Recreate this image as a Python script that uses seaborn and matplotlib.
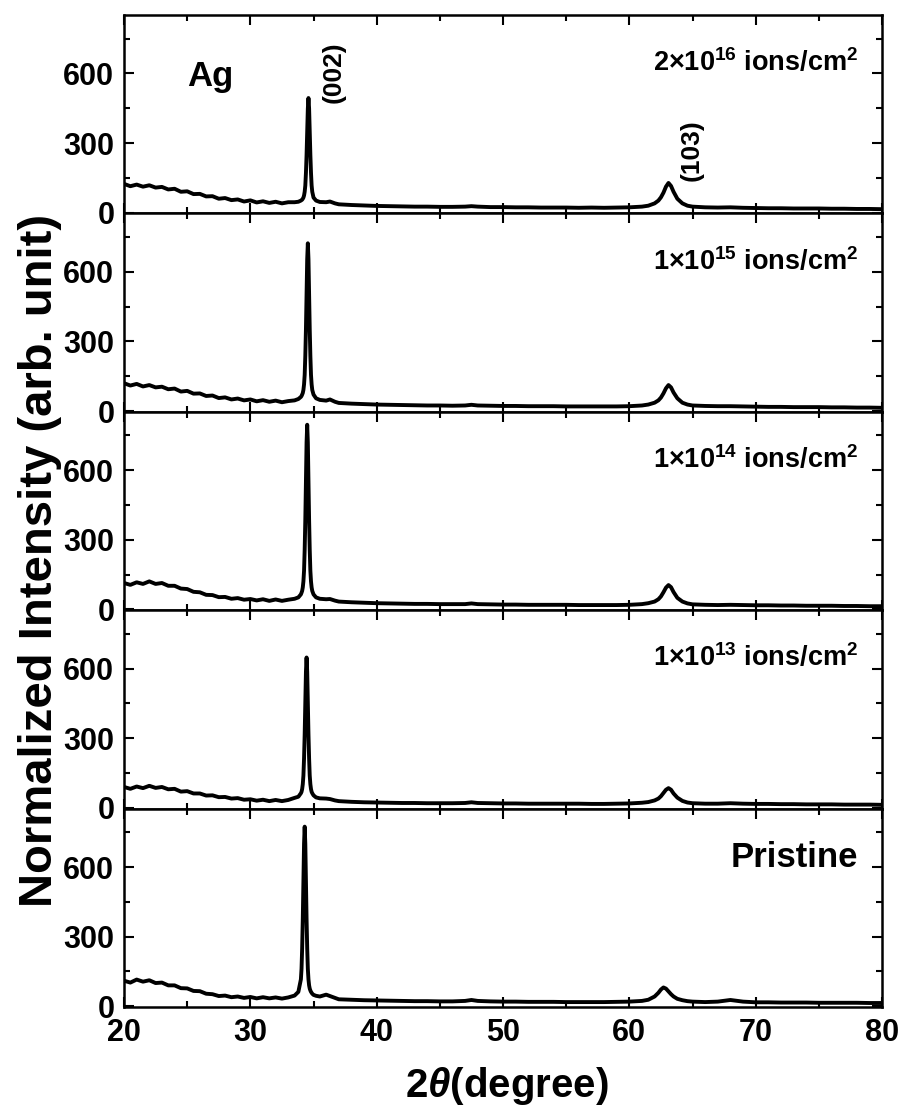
import numpy as np
import pandas as pd
import matplotlib
matplotlib.use("Agg")
import matplotlib.pyplot as plt
import seaborn as sns

# ---------------- data ----------------
two_theta = [20, 20.5, 21, 21.5, 22, 22.5, 23, 23.5, 24, 24.5, 25, 25.5, 26, 26.5, 27, 27.5,
             28, 28.5, 29, 29.5, 30, 30.5, 31, 31.5, 32, 32.5, 33,
             33.5, 33.8, 34.0, 34.05, 34.1, 34.15, 34.2, 34.25, 34.3, 34.35, 34.4, 34.45,
             34.5, 34.55, 34.6, 34.65, 34.7, 34.75, 34.8, 34.85, 34.9, 35.0, 35.2, 35.5,
             36.0, 36.3, 36.7, 37, 38, 39, 40, 41, 42, 43, 44, 45, 46, 47, 47.5, 48, 49, 50,
             51, 52, 53, 54, 55, 56, 57, 58, 59, 60, 61, 61.5,
             62.0, 62.3, 62.5, 62.7, 62.9, 63.1, 63.3, 63.5, 63.8, 64.2, 64.6, 65.0,
             66, 67, 68, 69, 70, 71, 72, 73, 74, 75, 76, 77, 78, 79, 80]

dose_2e16 = [124, 114, 121, 112, 118, 108, 111, 100, 103, 90, 92, 80, 81, 70, 71, 60,
             63, 54, 57, 48, 53, 44, 49, 42, 47, 40, 45,
             45, 47, 52, 54, 56, 60, 65, 74, 90, 117, 172, 249, 349, 449, 494, 449, 349, 249, 172, 117, 90, 65, 52, 46,
             45, 48, 40, 36, 33, 31, 29, 28, 27, 26, 26, 25, 25, 26, 28, 26, 24, 24, 23, 23, 22, 22, 22, 21, 22, 21, 22, 23, 26, 30,
             40, 52, 66, 86, 112, 128, 115, 90, 60, 40, 30, 26,
             23, 22, 23, 21, 20, 19, 19, 18, 18, 18, 17, 17, 16, 16, 15]

dose_1e15 = [120, 110, 117, 106, 112, 102, 105, 94, 97, 84, 87, 75, 76, 65, 67, 56,
             59, 50, 54, 46, 50, 42, 47, 40, 45, 38, 43,
             46, 52, 61, 65, 71, 78, 91, 115, 156, 238, 354, 504, 655, 723, 655, 504, 354, 238, 156, 115, 91, 71, 55, 48,
             45, 50, 40, 35, 32, 30, 28, 27, 26, 25, 24, 24, 23, 24, 27, 24, 23, 22, 22, 21, 21, 21, 20, 20, 20, 20, 20, 21, 24, 28,
             36, 46, 58, 76, 98, 112, 102, 80, 55, 36, 28, 24,
             22, 21, 21, 20, 19, 18, 18, 17, 17, 17, 16, 16, 15, 15, 14]

dose_1e14 = [114, 106, 117, 110, 121, 110, 114, 102, 102, 90, 88, 76, 74, 63, 62, 53,
             54, 46, 49, 42, 45, 39, 44, 37, 43, 37, 42,
             46, 52, 65, 72, 80, 95, 121, 167, 258, 387, 553, 720, 796, 720, 553, 387, 258, 167, 121, 95, 80, 65, 52, 46,
             44, 45, 38, 34, 31, 29, 27, 26, 25, 24, 24, 23, 23, 23, 26, 23, 22, 21, 21, 20, 20, 20, 20, 19, 19, 19, 19, 20, 23, 27,
             34, 44, 56, 74, 94, 105, 96, 75, 50, 34, 26, 22,
             20, 19, 20, 19, 18, 18, 17, 17, 16, 16, 16, 15, 15, 14, 14]

dose_1e13 = [90, 82, 92, 85, 95, 86, 90, 80, 82, 70, 72, 62, 62, 53, 54, 46,
             47, 40, 42, 35, 37, 31, 35, 29, 34, 29, 34,
             43, 48, 63, 69, 81, 102, 139, 213, 317, 452, 587, 648, 587, 452, 317, 213, 139, 102, 81, 69, 63, 54, 45, 41,
             40, 38, 32, 29, 26, 24, 23, 22, 21, 21, 20, 20, 20, 21, 24, 21, 20, 19, 19, 18, 18, 18, 18, 18, 17, 17, 18, 19, 22, 25,
             32, 40, 50, 64, 78, 85, 78, 62, 44, 30, 23, 20,
             18, 18, 20, 18, 17, 17, 16, 16, 15, 15, 15, 14, 14, 14, 13]

pristine = [110, 102, 115, 106, 112, 100, 102, 90, 90, 78, 77, 66, 65, 54, 52, 44,
            46, 39, 42, 36, 40, 34, 39, 34, 38, 33, 38,
            46, 62, 116, 161, 249, 375, 538, 700, 774, 700, 538, 375, 249, 161, 116, 90, 76, 68, 62, 58, 54, 49, 45, 42,
            50, 44, 36, 30, 28, 26, 25, 24, 23, 22, 22, 21, 21, 23, 27, 23, 21, 20, 20, 19, 19, 19, 18, 18, 18, 18, 19, 20, 23, 28,
            42, 58, 72, 81, 76, 64, 52, 42, 32, 26, 22, 20,
            18, 20, 27, 20, 17, 17, 16, 16, 16, 15, 15, 15, 15, 14, 14]

panel_labels = [r"2×10$^{\mathbf{16}}$ ions/cm$^{\mathbf{2}}$",
                r"1×10$^{\mathbf{15}}$ ions/cm$^{\mathbf{2}}$",
                r"1×10$^{\mathbf{14}}$ ions/cm$^{\mathbf{2}}$",
                r"1×10$^{\mathbf{13}}$ ions/cm$^{\mathbf{2}}$",
                "Pristine"]
series = [dose_2e16, dose_1e15, dose_1e14, dose_1e13, pristine]

x_ticks = [20, 30, 40, 50, 60, 70, 80]
y_ticks = [0, 300, 600]

# ---------------- style ----------------
sns.set_style("ticks")
plt.rcParams["font.family"] = ["Liberation Sans", "DejaVu Sans"]
plt.rcParams["font.weight"] = "bold"
plt.rcParams["text.color"] = "black"
plt.rcParams["axes.labelcolor"] = "black"
plt.rcParams["xtick.color"] = "black"
plt.rcParams["ytick.color"] = "black"
plt.rcParams["mathtext.fontset"] = "custom"
plt.rcParams["mathtext.rm"] = "Liberation Sans:bold"
plt.rcParams["mathtext.bf"] = "Liberation Sans:bold"
plt.rcParams["mathtext.it"] = "Liberation Sans:italic"

fig, axes = plt.subplots(5, 1, sharex=True, figsize=(9.06, 11.08), dpi=100)
fig.subplots_adjust(left=0.1369, right=0.9735, top=0.9865, bottom=0.0912, hspace=0)

for ax, ys, lab in zip(axes, series, panel_labels):
    df = pd.DataFrame({"two_theta": two_theta, "intensity": ys})
    sns.lineplot(data=df, x="two_theta", y="intensity", ax=ax, color="black",
                 lw=2.8, estimator=None)
    ax.set_xlim(20, 80)
    ax.set_ylim(-3, 852)
    ax.set_xticks(x_ticks)
    ax.set_yticks(y_ticks)
    ax.xaxis.set_minor_locator(matplotlib.ticker.MultipleLocator(5))
    ax.yaxis.set_minor_locator(matplotlib.ticker.MultipleLocator(150))
    ax.tick_params(which="both", direction="in", top=True, right=True, width=1.5,
                   labelsize=22, colors="black")
    ax.tick_params(which="major", length=7.5)
    ax.tick_params(which="minor", length=4)
    ax.tick_params(axis="y", pad=7)
    ax.tick_params(axis="x", pad=8)
    for s in ax.spines.values():
        s.set_linewidth(1.8)
        s.set_color("black")
    ax.set_xlabel("")
    ax.set_ylabel("")
    for t in ax.get_xticklabels() + ax.get_yticklabels():
        t.set_fontweight("bold")
    if lab == "Pristine":
        ax.text(78.1, 600, lab, ha="right", va="baseline", fontsize=25,
                fontweight="bold", color="black")
    else:
        ax.text(78.1, 610, lab, ha="right", va="baseline", fontsize=19.5,
                fontweight="bold", color="black")

axes[0].text(25.0, 545, "Ag", ha="left", va="baseline", fontsize=25, fontweight="bold")
axes[0].text(36.6, 606, "(002)", ha="center", va="center", rotation=90,
             fontsize=19, fontweight="bold")
axes[0].text(64.9, 270, "(103)", ha="center", va="center", rotation=90,
             fontsize=19, fontweight="bold")

fig.text(0.044, 0.4946, "Normalized Intensity (arb. unit)", rotation=90,
         ha="center", va="center", fontsize=34, fontweight="bold")
fig.text(0.56, 0.02, r"2$\theta$(degree)", ha="center", va="center",
         fontsize=29, fontweight="bold")

fig.savefig("out.png", dpi=100)
